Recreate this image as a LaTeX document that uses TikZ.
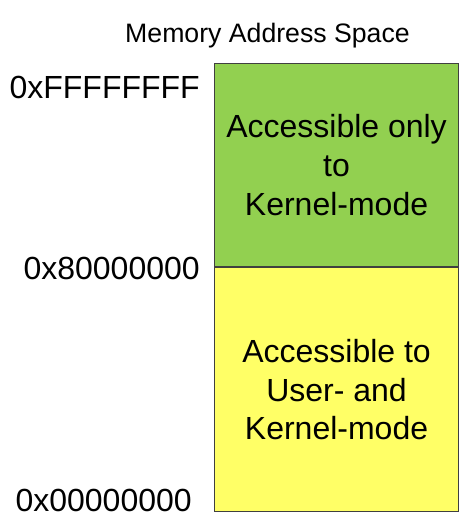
\documentclass[tikz,border=0pt]{standalone}
\usepackage{fontspec}
\setmainfont{Liberation Sans}
\definecolor{kgreen}{HTML}{92D050}
\definecolor{uyellow}{HTML}{FFFF66}
\begin{document}
\begin{tikzpicture}[x=0.75pt,y=-0.75pt,
  region/.style={draw=black!75, line width=0.8pt, rectangle, inner sep=0pt,
    minimum width=183pt, align=center, font=\fontsize{24}{29}\selectfont},
  addr/.style={inner sep=0pt, anchor=base east, font=\fontsize{24}{29}\selectfont},
  title/.style={inner sep=0pt, anchor=base, font=\fontsize{20}{24}\selectfont}]
\useasboundingbox (0,0) rectangle (473,524);
\node[title] (title) at (267.5,43) {Memory Address Space};
\node[region, fill=kgreen, minimum height=152.25pt, anchor=north west] (kernel) at (214,63)
  {Accessible only\\to\\Kernel-mode};
\node[region, fill=uyellow, minimum height=183pt, anchor=north west] (user) at (kernel.south west)
  {Accessible to\\User- and\\Kernel-mode};
\node[addr] (top) at (200,99) {0xFFFFFFFF};
\node[addr] (mid) at (200,279) {0x80000000};
\node[addr] (bot) at (192,511) {0x00000000};
\end{tikzpicture}
\end{document}
